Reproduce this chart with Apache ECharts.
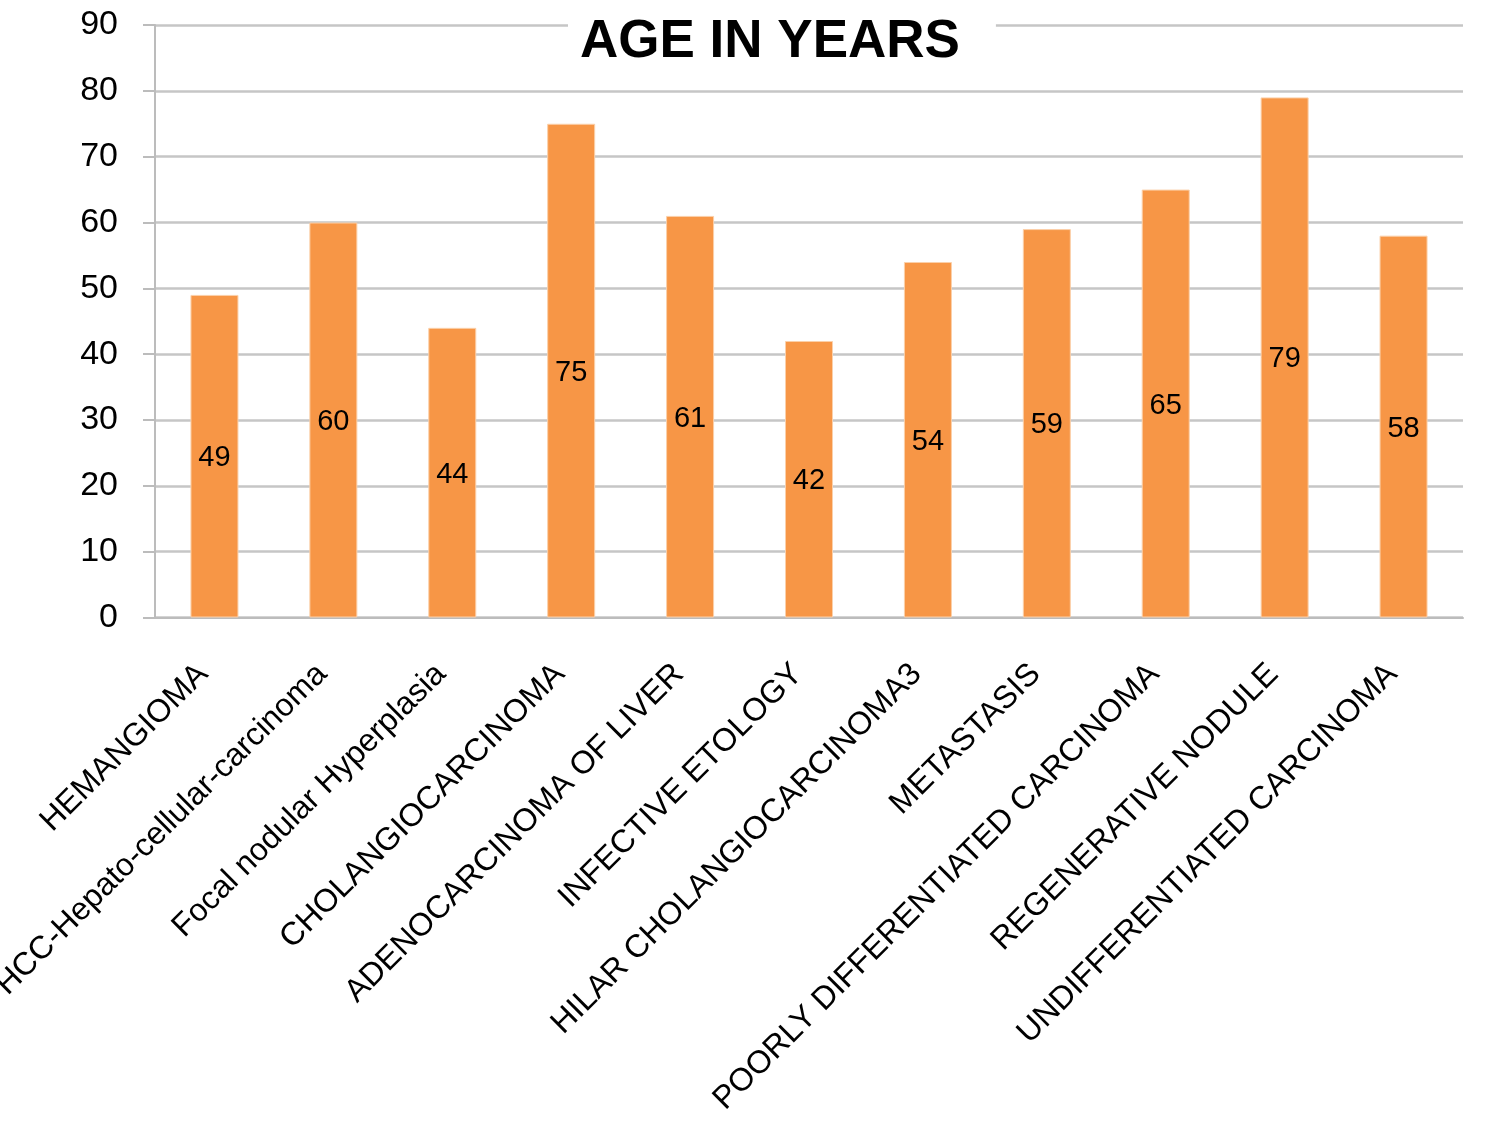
<!DOCTYPE html>
<html>
<head>
<meta charset="utf-8">
<script src="https://cdn.jsdelivr.net/npm/echarts@6/dist/echarts.min.js"></script>
<style>
html,body{margin:0;padding:0;background:#fff;}
#c{width:1500px;height:1128px;}
</style>
</head>
<body>
<div id="c"></div>
<script>
const categories = [
  "HEMANGIOMA",
  "HCC-Hepato-cellular-carcinoma",
  "Focal nodular Hyperplasia",
  "CHOLANGIOCARCINOMA",
  "ADENOCARCINOMA OF LIVER",
  "INFECTIVE ETOLOGY",
  "HILAR CHOLANGIOCARCINOMA3",
  "METASTASIS",
  "POORLY DIFFERENTIATED CARCINOMA",
  "REGENERATIVE NODULE",
  "UNDIFFERENTIATED CARCINOMA"
];
const ages = [49, 60, 44, 75, 61, 42, 54, 59, 65, 79, 58];
const titleText = "AGE IN YEARS";

const chart = echarts.init(document.getElementById('c'));
const font = "'Liberation Sans', Arial, sans-serif";
chart.setOption({
  backgroundColor: '#ffffff',
  animation: false,
  title: {
    text: titleText,
    left: 568,
    top: 12,
    padding: [4, 36, 4, 12],
    backgroundColor: '#ffffff',
    textStyle: { fontFamily: font, fontSize: 53, fontWeight: 'bold', color: '#000', lineHeight: 53 }
  },
  grid: { left: 155, right: 37, top: 25, bottom: 510.5, containLabel: false, outerBoundsMode: 'none' },
  xAxis: {
    type: 'category',
    data: categories,
    axisLine: { lineStyle: { color: '#bcbcbc', width: 2 } },
    axisTick: { show: false },
    axisLabel: { interval: 0, rotate: 45, fontFamily: font, fontSize: 32, color: '#000', margin: 63, verticalAlign: 'bottom' }
  },
  yAxis: {
    type: 'value',
    min: 0, max: 90, interval: 10,
    axisLine: { show: true, lineStyle: { color: '#bcbcbc', width: 2 } },
    axisTick: { show: true, length: 12, lineStyle: { color: '#bcbcbc', width: 2 } },
    splitLine: { lineStyle: { color: '#c6c6c6', width: 2.5 } },
    axisLabel: { fontFamily: font, fontSize: 34, color: '#000', margin: 37 }
  },
  series: [{
    type: 'bar',
    data: ages,
    barWidth: 48,
    itemStyle: { color: '#F79646', borderColor: '#FBD0AA', borderWidth: 1 },
    label: { show: true, position: 'inside', fontFamily: font, fontSize: 29, color: '#000', offset: [0, 2] }
  }]
});
</script>
</body>
</html>
